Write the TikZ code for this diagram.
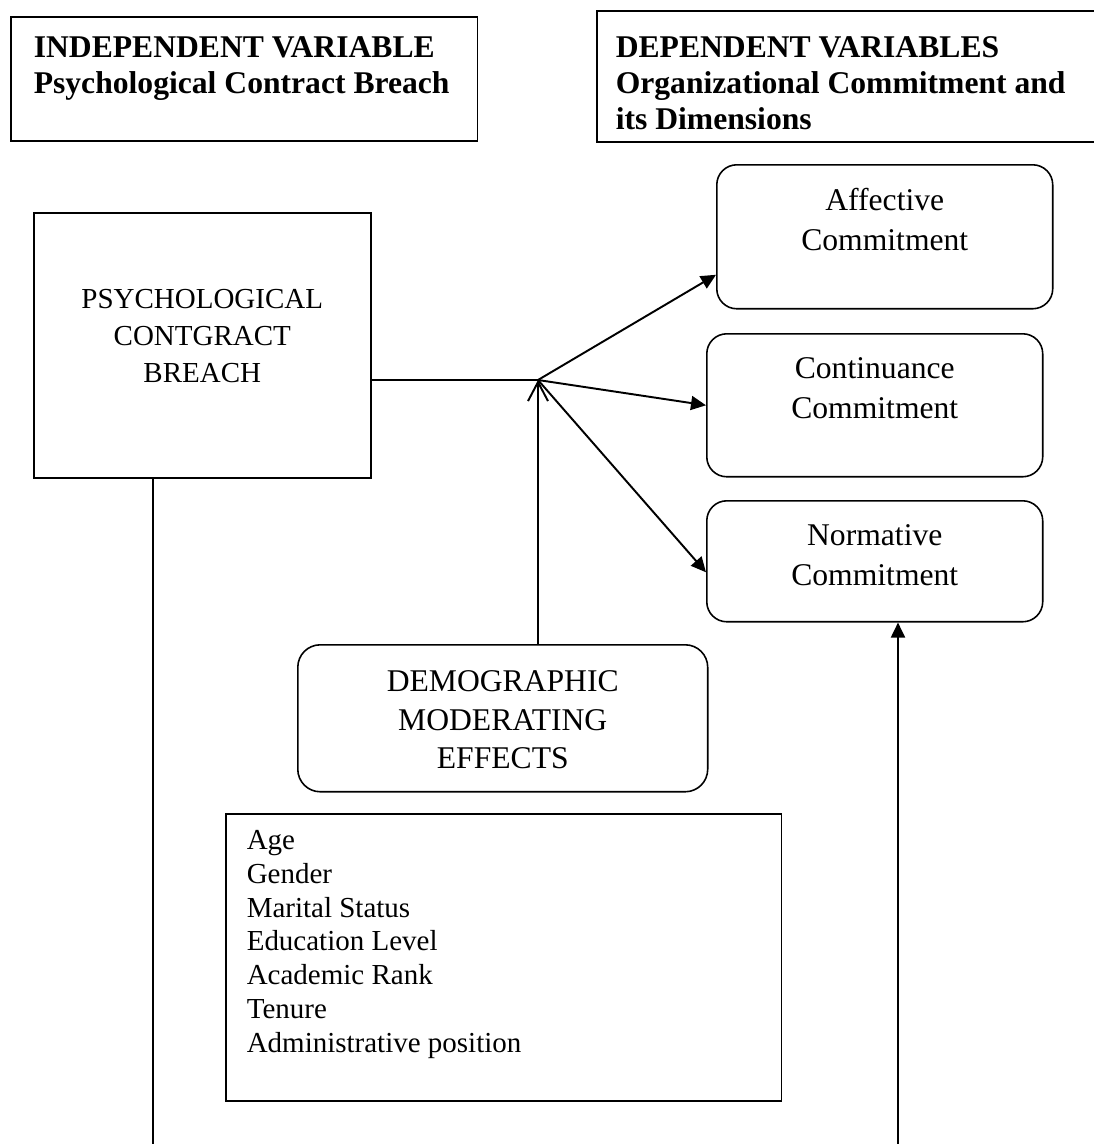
\documentclass[tikz,border=0pt]{standalone}
\usepackage{fontspec}
\setmainfont{Liberation Serif}
\usetikzlibrary{arrows.meta, calc}

\begin{document}
\begin{tikzpicture}[
    x=0.02cm, y=-0.02cm,
    hdr/.style={rectangle, draw, line width=0.9pt, anchor=north west, inner xsep=0.4cm, inner ysep=0pt, align=flush left, font=\fontsize{18}{20.5}\selectfont\bfseries},
    block/.style={rectangle, draw, line width=0.9pt, anchor=north west, inner sep=0pt, align=flush center, font=\fontsize{18}{22.8}\selectfont},
    rblock/.style={block, rounded corners=0.4cm},
    arr/.style={-{Triangle[length=0.3cm, width=0.28cm]}, line width=1.1pt},
    barb/.style={-{Straight Barb[length=0.38cm, width=0.4cm]}, line width=1.1pt},
    link/.style={line width=0.6pt},
  ]
    \clip (0,0) rectangle (1094,1144);

    % headers
    \node[hdr, text width=8.42cm, inner xsep=0.46cm, text height=0.82cm, text depth=1.66cm] (iv) at (10,16) {INDEPENDENT VARIABLE\\Psychological Contract Breach};
    \node[hdr, text width=9.6cm, inner xsep=0.38cm, text height=0.94cm, text depth=1.68cm] (dv) at (596,10) {DEPENDENT VARIABLES\\Organizational Commitment and\\its Dimensions};

    % boxes
    \node[block, text width=6.74cm, font=\fontsize{16.5}{21}\selectfont, text height=1.92cm, text depth=3.38cm] (pcb) at (33,212) {PSYCHOLOGICAL\\CONTGRACT\\BREACH};
    \node[rblock, text width=6.72cm, text height=0.92cm, text depth=1.96cm] (ac) at (716,164) {Affective\\Commitment};
    \node[rblock, text width=6.72cm, text height=0.9cm, text depth=1.96cm] (cc) at (706,333) {Continuance\\Commitment};
    \node[rblock, text width=6.72cm, text height=0.9cm, text depth=1.52cm] (nc) at (706,500) {Normative\\Commitment};
    \node[rblock, rounded corners=0.45cm, text width=8.2cm, font=\fontsize{18}{21.9}\selectfont, text height=0.94cm, text depth=2.0cm] (dme) at (297,644) {DEMOGRAPHIC\\MODERATING\\EFFECTS};
    \node[block, align=flush left, text width=10.28cm, inner xsep=0.42cm, font=\fontsize{16.5}{19.2}\selectfont, text height=0.72cm, text depth=5.02cm] (dem) at (225,813) {Age\\Gender\\Marital Status\\Education Level\\Academic Rank\\Tenure\\Administrative position};

    \coordinate (jn) at (538,380);
    \coordinate (lb) at (153,1144);
    \coordinate (rb) at (898,1144);

    \draw[link] (pcb.east |- jn) -- (jn);
    \draw[arr] (jn) -- ($(ac.west)+(0,38)$);
    \draw[arr] (jn) -- (cc.west);
    \draw[arr] (jn) -- ($(nc.west)+(0,11)$);
    \draw[barb] (jn |- dme.north) -- (jn);
    \draw[link] (pcb.south -| lb) -- (lb);
    \draw[arr] (rb) -- (rb |- nc.south);
  \end{tikzpicture}
\end{document}
